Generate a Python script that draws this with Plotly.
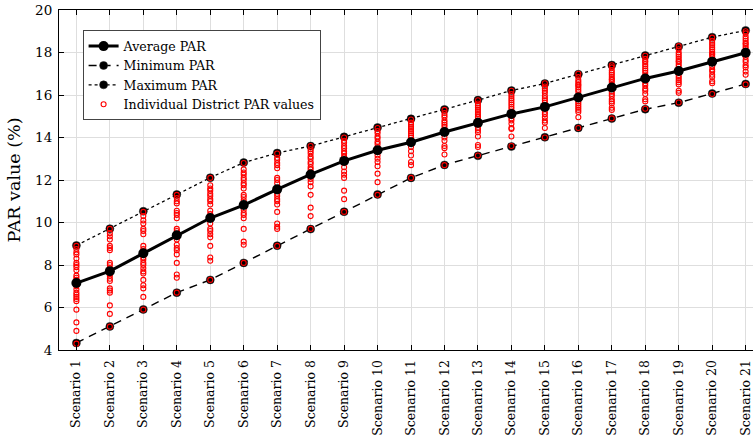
import plotly.graph_objects as go

scenarios = [f"Scenario {i}" for i in range(1, 22)]

average_par = [7.15, 7.71, 8.55, 9.40, 10.21, 10.82, 11.56, 12.26, 12.90, 13.40, 13.78,
               14.26, 14.69, 15.11, 15.44, 15.88, 16.35, 16.78, 17.13, 17.57, 17.99]
minimum_par = [4.33, 5.11, 5.91, 6.70, 7.30, 8.10, 8.91, 9.69, 10.51, 11.32, 12.10,
               12.71, 13.14, 13.58, 14.01, 14.45, 14.89, 15.33, 15.64, 16.07, 16.52]
maximum_par = [8.92, 9.71, 10.53, 11.32, 12.11, 12.82, 13.27, 13.60, 14.03, 14.47, 14.88,
               15.32, 15.76, 16.21, 16.54, 16.98, 17.41, 17.86, 18.28, 18.72, 19.04]

district_par = [
    [8.9, 8.75, 8.6, 8.5, 8.3, 8.1, 8.0, 7.9, 7.75, 7.5, 7.4, 7.3, 7.2, 7.1, 7.0,
     6.85, 6.7, 6.6, 6.5, 6.4, 6.3, 5.9, 5.3, 4.9, 4.3],
    [9.7, 9.5, 9.35, 9.2, 8.9, 8.8, 8.7, 8.1, 8.0, 7.85, 7.7, 7.6, 7.5, 7.35, 7.25,
     6.9, 6.8, 6.7, 6.1, 5.7, 5.1],
    [10.5, 10.3, 10.1, 9.95, 9.7, 9.6, 9.45, 8.9, 8.75, 8.6, 8.5, 8.35, 8.25, 8.1,
     8.0, 7.85, 7.7, 7.6, 7.3, 7.05, 6.9, 6.5, 5.9],
    [11.3, 11.15, 11.0, 10.9, 10.55, 10.45, 10.35, 10.2, 9.7, 9.6, 9.4, 9.2, 8.95,
     8.8, 8.7, 8.5, 8.1, 7.55, 7.4, 6.7],
    [12.1, 11.75, 11.6, 11.5, 11.35, 11.25, 11.1, 11.0, 10.85, 10.55, 10.4, 10.2,
     9.95, 9.7, 9.6, 9.45, 9.3, 8.9, 8.35, 8.2, 7.3],
    [12.8, 12.5, 12.35, 12.25, 12.1, 12.0, 11.85, 11.75, 11.6, 11.3, 11.2, 11.05,
     10.85, 10.6, 10.45, 10.35, 10.2, 9.7, 9.1, 8.95, 8.1],
    [13.25, 13.05, 12.95, 12.8, 12.7, 12.55, 12.1, 12.0, 11.85, 11.55, 11.35, 11.25,
     11.1, 11.0, 10.85, 10.5, 9.95, 9.8, 9.7, 8.9],
    [13.6, 13.45, 13.35, 13.25, 13.1, 13.0, 12.85, 12.75, 12.6, 12.5, 12.2, 12.05,
     11.9, 11.7, 11.3, 10.7, 10.3, 9.7],
    [14.0, 13.85, 13.75, 13.6, 13.5, 13.35, 13.25, 13.1, 12.95, 12.85, 12.6, 12.4,
     12.25, 12.1, 11.5, 11.1, 10.5],
    [14.45, 14.3, 14.2, 14.05, 13.95, 13.8, 13.7, 13.55, 13.4, 13.15, 13.0, 12.85,
     12.65, 12.3, 11.9, 11.3],
    [14.85, 14.7, 14.6, 14.5, 14.4, 14.3, 14.2, 14.1, 14.0, 13.85, 13.75, 13.55,
     13.35, 13.15, 12.85, 12.7, 12.1],
    [15.3, 15.15, 15.05, 14.95, 14.8, 14.7, 14.6, 14.5, 14.35, 14.25, 14.0, 13.85,
     13.6, 13.5, 13.2, 12.7],
    [15.75, 15.6, 15.5, 15.4, 15.3, 15.2, 15.1, 15.0, 14.95, 14.8, 14.7, 14.45,
     14.35, 14.25, 14.05, 13.65, 13.55, 13.15],
    [16.2, 16.05, 15.95, 15.85, 15.75, 15.65, 15.55, 15.45, 15.35, 15.2, 15.1, 14.9,
     14.8, 14.65, 14.45, 14.4, 14.05, 13.6],
    [16.55, 16.4, 16.3, 16.2, 16.1, 15.95, 15.85, 15.75, 15.65, 15.45, 15.2, 15.1,
     14.95, 14.8, 14.7, 14.45, 14.0],
    [17.0, 16.85, 16.7, 16.6, 16.5, 16.45, 16.35, 16.25, 16.15, 16.0, 15.85, 15.7,
     15.6, 15.5, 15.4, 15.3, 15.2, 14.95, 14.45],
    [17.4, 17.3, 17.15, 17.05, 16.95, 16.85, 16.75, 16.7, 16.6, 16.45, 16.35, 16.15,
     16.05, 15.95, 15.8, 15.7, 15.6, 15.4, 15.3, 14.9],
    [17.85, 17.7, 17.6, 17.55, 17.45, 17.35, 17.25, 17.15, 17.05, 16.9, 16.75, 16.55,
     16.45, 16.3, 16.2, 16.05, 15.8, 15.7, 15.35],
    [18.3, 18.15, 18.0, 17.9, 17.8, 17.7, 17.6, 17.55, 17.45, 17.35, 17.2, 17.1,
     16.9, 16.8, 16.7, 16.6, 16.5, 16.2, 16.1, 15.65],
    [18.7, 18.55, 18.45, 18.35, 18.25, 18.15, 18.05, 17.95, 17.9, 17.8, 17.65, 17.5,
     17.35, 17.2, 17.1, 16.95, 16.85, 16.65, 16.55, 16.05],
    [19.0, 18.9, 18.75, 18.65, 18.55, 18.45, 18.4, 18.3, 18.2, 18.1, 17.95, 17.8,
     17.65, 17.55, 17.4, 17.3, 17.1, 16.95, 16.5],
]

FONT = "DejaVu Serif"

dx, dy = [], []
for s, vals in zip(scenarios, district_par):
    dx.extend([s] * len(vals))
    dy.extend(vals)

fig = go.Figure()

fig.add_trace(go.Scatter(
    x=scenarios, y=minimum_par, name="Minimum PAR", mode="lines+markers",
    line=dict(color="black", width=1.4, dash="8px,6px"),
    marker=dict(color="black", size=8, line=dict(color="#222", width=0.5)),
    legendrank=2))
fig.add_trace(go.Scatter(
    x=scenarios, y=maximum_par, name="Maximum PAR", mode="lines+markers",
    line=dict(color="black", width=1.3, dash="dot"),
    marker=dict(color="black", size=8, line=dict(color="#222", width=0.5)),
    legendrank=3))
fig.add_trace(go.Scatter(
    x=dx, y=dy, name="Individual District PAR values", mode="markers",
    marker=dict(symbol="circle-open", color="red", size=5, line=dict(width=1.1, color="red")),
    legendrank=4))
fig.add_trace(go.Scatter(
    x=scenarios, y=average_par, name="Average PAR", mode="lines+markers",
    line=dict(color="black", width=3),
    marker=dict(color="black", size=10),
    legendrank=1))

fig.update_layout(
    width=753, height=438,
    margin=dict(l=59, r=0, t=9.5, b=88),
    paper_bgcolor="white", plot_bgcolor="white",
    font=dict(family=FONT, size=12.5, color="black"),
    showlegend=True,
    legend=dict(x=0.034, y=0.94, xanchor="left", yanchor="top",
                bgcolor="white", bordercolor="#444", borderwidth=1,
                font=dict(family=FONT, size=12.6), tracegroupgap=0,
                itemwidth=30),
    xaxis=dict(
        type="category", categoryorder="array", categoryarray=scenarios,
        range=[-0.52, 20.22], tickangle=-90, automargin=False,
        showgrid=True, gridcolor="#dedede", gridwidth=1,
        ticks="inside", ticklen=5, tickcolor="black", mirror="ticks",
        showline=True, linecolor="black", linewidth=1,
        tickfont=dict(family=FONT, size=12.5), zeroline=False,
        ticklabelstandoff=4),
    yaxis=dict(
        range=[4, 20], dtick=2, tick0=4, automargin=False,
        showgrid=True, gridcolor="#dedede", gridwidth=1,
        ticks="inside", ticklen=5, tickcolor="black",
        showline=True, linecolor="black", linewidth=1,
        tickfont=dict(family=FONT, size=13.5), zeroline=False,
        ticklabelstandoff=3,
        title=dict(text="PAR value (%)", font=dict(family=FONT, size=17.5), standoff=9)),
)

fig.write_html("out.html", config={"displayModeBar": False},
               post_script="document.body.style.margin='0';")
